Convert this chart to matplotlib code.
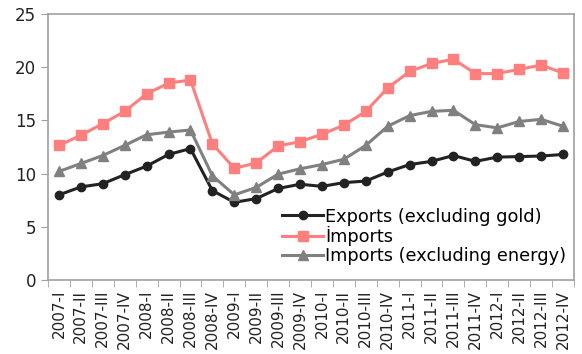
import numpy as np
import matplotlib.pyplot as plt

quarters = ["2007-I", "2007-II", "2007-III", "2007-IV",
            "2008-I", "2008-II", "2008-III", "2008-IV",
            "2009-I", "2009-II", "2009-III", "2009-IV",
            "2010-I", "2010-II", "2010-III", "2010-IV",
            "2011-I", "2011-II", "2011-III", "2011-IV",
            "2012-I", "2012-II", "2012-III", "2012-IV"]

exports = [8.0, 8.75, 9.05, 9.9, 10.7, 11.8, 12.35, 8.4,
           7.3, 7.65, 8.6, 9.0, 8.8, 9.15, 9.3, 10.15,
           10.85, 11.15, 11.7, 11.15, 11.55, 11.6, 11.65, 11.8]
imports = [12.65, 13.6, 14.7, 15.85, 17.5, 18.5, 18.8, 12.8,
           10.5, 11.0, 12.6, 13.0, 13.7, 14.55, 15.85, 18.05,
           19.6, 20.35, 20.75, 19.4, 19.4, 19.8, 20.2, 19.45]
imports_ex_energy = [10.2, 10.95, 11.7, 12.65, 13.65, 13.9, 14.1, 9.8,
                     8.0, 8.7, 9.95, 10.45, 10.85, 11.35, 12.65, 14.45,
                     15.45, 15.85, 15.95, 14.6, 14.3, 14.9, 15.1, 14.45]

plt.rcParams["font.family"] = ["DejaVu Sans"]

fig = plt.figure(figsize=(5.82, 3.54), dpi=100)
ax = fig.add_axes([48 / 582, 1 - 280 / 354, 526 / 582, 266 / 354])

x = np.arange(len(quarters))
ax.plot(x, exports, color="#222222", linewidth=2.2, marker="o", markersize=6,
        label="Exports (excluding gold)")
ax.plot(x, imports, color="#ff7f7f", linewidth=2.2, marker="s", markersize=6.5,
        label="İmports")
ax.plot(x, imports_ex_energy, color="#808080", linewidth=2.2, marker="^", markersize=7,
        label="Imports (excluding energy)")

ax.set_xlim(-0.5, len(quarters) - 0.5)
ax.set_ylim(0, 25)
ax.set_yticks([0, 5, 10, 15, 20, 25])
ax.set_xticks(x)
ax.set_xticklabels(quarters, rotation=90, fontsize=11, color="#222222")
ax.set_xticks(np.arange(-0.5, len(quarters), 1), minor=True)
ax.tick_params(axis="x", which="major", length=0, pad=7)
ax.tick_params(axis="x", which="minor", length=5, color="#a0a0a0")
ax.tick_params(axis="y", length=5, color="#a0a0a0", labelsize=12, labelcolor="#222222")

for s in ax.spines.values():
    s.set_color("#a0a0a0")
    s.set_linewidth(1.2)

# legend sits inside the box, bottom right, no frame
ax.legend(loc="lower right", bbox_to_anchor=(0.985, 0.055), frameon=False,
          fontsize=12.8, handlelength=2.3, handletextpad=0.1,
          labelspacing=0.05, borderaxespad=0, borderpad=0)

fig.savefig("out.png", dpi=100)
